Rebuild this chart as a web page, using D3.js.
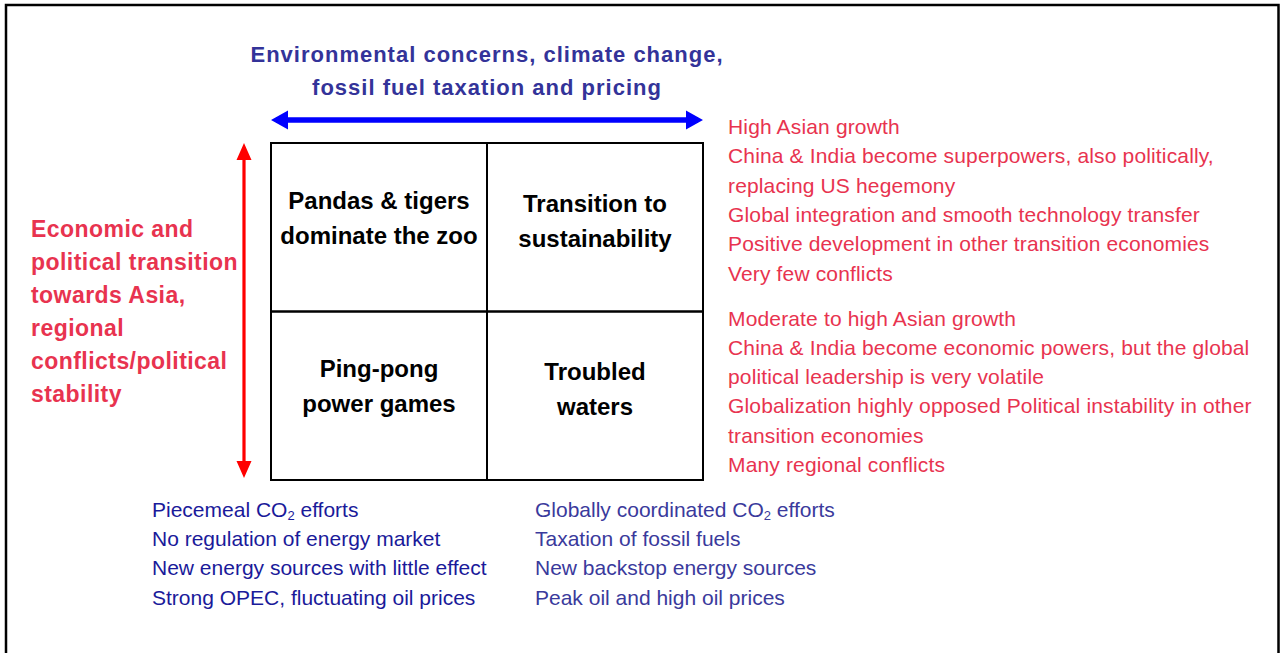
<!DOCTYPE html>
<html lang="en">
<head>
<meta charset="UTF-8">
<title>Scenario matrix</title>
<style>
  * { margin: 0; box-sizing: border-box; }
  body { width: 1286px; height: 653px; background: #fff; overflow: hidden; }
  svg { display: block; font-family: "Liberation Sans", Arial, Helvetica, sans-serif; }
</style>
</head>
<body>
<svg id="chart" width="1286" height="653"></svg>
<script src="https://cdn.jsdelivr.net/npm/d3@7"></script>
<script>
// data
const columns = ["piecemeal", "coordinated"];
const rows = ["asia", "volatile"];
const scenarios = [
  {col: "piecemeal", row: "asia", lines: ["Pandas & tigers", "dominate the zoo"]},
  {col: "coordinated", row: "asia", lines: ["Transition to", "sustainability"]},
  {col: "piecemeal", row: "volatile", lines: ["Ping-pong", "power games"]},
  {col: "coordinated", row: "volatile", lines: ["Troubled", "waters"]}
];
const xTitle = ["Environmental concerns, climate change,", "fossil fuel taxation and pricing"];
const yTitle = ["Economic and", "political transition", "towards Asia,", "regional", "conflicts/political", "stability"];
const asiaNotes = [
  "High Asian growth",
  "China & India become superpowers, also politically,",
  "replacing US hegemony",
  "Global integration and smooth technology transfer",
  "Positive development in other transition economies",
  "Very few conflicts"
];
const volatileNotes = [
  "Moderate to high Asian growth",
  "China & India become economic powers, but the global",
  "political leadership is very volatile",
  "Globalization highly opposed Political instability in other",
  "transition economies",
  "Many regional conflicts"
];
const piecemealNotes = [
  ["Piecemeal CO", "2", " efforts"],
  ["No regulation of energy market"],
  ["New energy sources with little effect"],
  ["Strong OPEC, fluctuating oil prices"]
];
const coordinatedNotes = [
  ["Globally coordinated CO", "2", " efforts"],
  ["Taxation of fossil fuels"],
  ["New backstop energy sources"],
  ["Peak oil and high oil prices"]
];
// data end

const svg = d3.select("#chart");

const x = d3.scaleBand().domain(columns).range([271, 703]);
const y = d3.scaleBand().domain(rows).range([143, 480]);
const gridLeft = x.range()[0], gridRight = x.range()[1];
const gridTop = y.range()[0], gridBottom = y.range()[1];
const midX = x("coordinated"), midY = y("volatile");

// outer frame
svg.append("rect")
  .attr("x", 6).attr("y", 5)
  .attr("width", 1272.5).attr("height", 700)
  .attr("fill", "none")
  .attr("stroke", "#000")
  .attr("stroke-width", 2.5);

// double headed arrow as one polygon
function doubleArrow(x1, y1, x2, y2, shaft, headLen, headHalf) {
  const len = Math.hypot(x2 - x1, y2 - y1);
  const ux = (x2 - x1) / len, uy = (y2 - y1) / len;
  const nx = -uy, ny = ux;
  const s = shaft / 2;
  const pt = (a, b) => [x1 + ux * a + nx * b, y1 + uy * a + ny * b];
  return [
    pt(0, 0), pt(headLen, headHalf), pt(headLen, s), pt(len - headLen, s),
    pt(len - headLen, headHalf), pt(len, 0), pt(len - headLen, -headHalf),
    pt(len - headLen, -s), pt(headLen, -s), pt(headLen, -headHalf)
  ];
}
const line = d3.line();

svg.append("path")
  .attr("d", line(doubleArrow(gridLeft, 120, gridRight, 120, 5.5, 17, 9.5)) + "Z")
  .attr("fill", "#0000ff");

svg.append("path")
  .attr("d", line(doubleArrow(244, gridTop, 244, gridBottom - 2, 3.2, 17, 7.5)) + "Z")
  .attr("fill", "#ff0000");

// grid cells
const cells = svg.append("g");
cells.selectAll("rect")
  .data(scenarios)
  .join("rect")
  .attr("x", d => x(d.col))
  .attr("y", d => y(d.row))
  .attr("width", x.bandwidth())
  .attr("height", y.bandwidth())
  .attr("fill", "none")
  .attr("stroke", "#000")
  .attr("stroke-width", 2);

cells.selectAll("text")
  .data(scenarios)
  .join("text")
  .attr("text-anchor", "middle")
  .attr("font-weight", "bold")
  .attr("font-size", 24)
  .attr("fill", "#000")
  .each(function(d) {
    const cx = x(d.col) + x.bandwidth() / 2;
    const cy = y(d.row) + y.bandwidth() / 2 + (d.col === "coordinated" ? 2 : -1);
    d3.select(this).selectAll("tspan")
      .data(d.lines)
      .join("tspan")
      .attr("x", cx)
      .attr("y", (t, i) => cy + (i - 0.5) * 35)
      .text(t => t);
  });

// x axis title
svg.append("g").selectAll("text")
  .data(xTitle)
  .join("text")
  .attr("x", midX)
  .attr("y", (d, i) => 62 + i * 33)
  .attr("text-anchor", "middle")
  .attr("font-weight", "bold")
  .attr("font-size", 22)
  .attr("letter-spacing", 1)
  .attr("fill", "#333399")
  .text(d => d);

// y axis title
svg.append("g").selectAll("text")
  .data(yTitle)
  .join("text")
  .attr("x", 31)
  .attr("y", (d, i) => 237 + i * 33)
  .attr("font-weight", "bold")
  .attr("font-size", 23)
  .attr("letter-spacing", 0.45)
  .attr("fill", "#e8334f")
  .text(d => d);

// right notes
function noteBlock(lines, x0, y0) {
  svg.append("g").selectAll("text")
    .data(lines)
    .join("text")
    .attr("x", x0)
    .attr("y", (d, i) => y0 + i * 29.3)
    .attr("font-size", 21)
    .attr("letter-spacing", 0.15)
    .attr("fill", "#e8334f")
    .text(d => d);
}
noteBlock(asiaNotes, 728, gridTop - 9);
noteBlock(volatileNotes, 728, midY + 14);

// bottom notes
function bottomBlock(lines, x0, color) {
  svg.append("g").selectAll("text")
    .data(lines)
    .join("text")
    .attr("x", x0)
    .attr("y", (d, i) => gridBottom + 37 + i * 29.2)
    .attr("font-size", 21)
    .attr("fill", color)
    .each(function(parts) {
      d3.select(this).selectAll("tspan")
        .data(parts)
        .join("tspan")
        .attr("font-size", (p, i) => i === 1 ? 13 : null)
        .attr("dy", (p, i) => i === 1 ? 3 : i === 2 ? -3 : null)
        .text(p => p);
    });
}
bottomBlock(piecemealNotes, 152, "#1a1a9a");
bottomBlock(coordinatedNotes, midX + 48, "#3a3a9c");
</script>
</body>
</html>
